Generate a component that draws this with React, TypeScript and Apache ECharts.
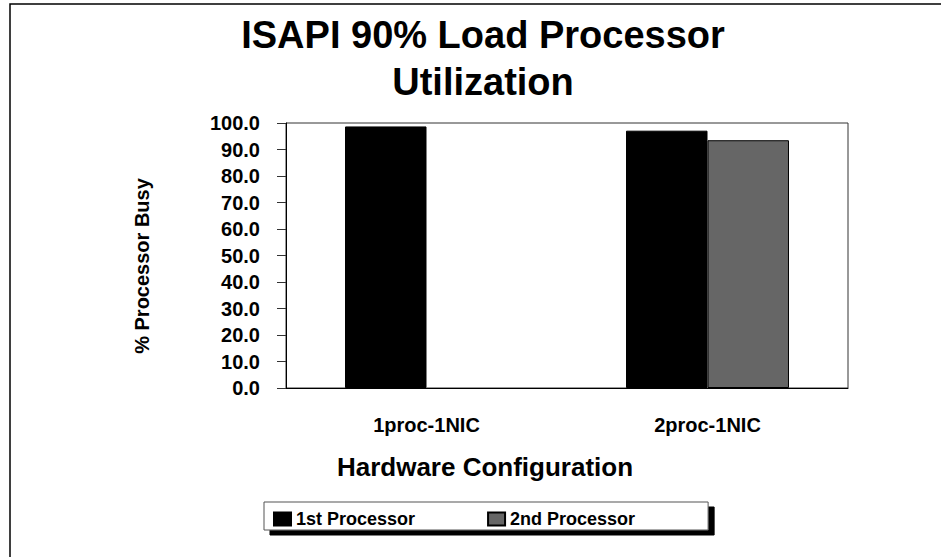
import React, { useEffect, useRef } from 'react';
import * as echarts from 'echarts';

const categories = ['1proc-1NIC', '2proc-1NIC'];
const seriesNames = ['1st Processor', '2nd Processor'];
const firstProcessor = [98.7, 97.1];
const secondProcessor: (number | null)[] = [null, 93.5];
const yMin = 0;
const yMax = 100;
const yInterval = 10;

const titleText = 'ISAPI 90% Load Processor\nUtilization';
const xAxisName = 'Hardware Configuration';
const yAxisName = '% Processor Busy';

const FONT = '"Liberation Sans", Arial, Helvetica, sans-serif';

export default function App() {
  const ref = useRef<HTMLDivElement>(null);

  useEffect(() => {
    if (!ref.current) return;
    const chart = echarts.init(ref.current, null, { renderer: 'svg' });
    chart.setOption({
      animation: false,
      backgroundColor: '#ffffff',
      textStyle: { fontFamily: FONT },
      title: [
        {
          text: titleText,
          left: 483,
          top: 11,
          textAlign: 'center',
          padding: 0,
          textStyle: {
            fontFamily: FONT,
            fontSize: 38,
            fontWeight: 'bold',
            color: '#000',
            lineHeight: 47,
          },
        },
        {
          text: xAxisName,
          left: 485,
          top: 452,
          textAlign: 'center',
          padding: 0,
          textStyle: {
            fontFamily: FONT,
            fontSize: 26,
            fontWeight: 'bold',
            color: '#000',
            lineHeight: 30,
          },
        },
      ],
      graphic: [
        {
          type: 'rect',
          silent: true,
          z: -10,
          shape: { x: 10, y: 4, width: 1000, height: 700 },
          style: { fill: 'none', stroke: '#000', lineWidth: 1.5 },
        },
      ],
      grid: {
        left: 286,
        right: 93,
        top: 123,
        bottom: 169,
        show: true,
        borderColor: '#333',
        borderWidth: 1,
        backgroundColor: 'transparent',
      },
      legend: {
        data: seriesNames,
        left: 264,
        top: 502,
        orient: 'horizontal',
        icon: 'rect',
        itemWidth: 17,
        itemHeight: 13,
        itemGap: 72,
        padding: [8, 73, 2, 9],
        backgroundColor: '#ffffff',
        borderColor: '#555',
        borderWidth: 1,
        borderRadius: 0,
        shadowColor: '#000',
        shadowBlur: 0,
        shadowOffsetX: 6,
        shadowOffsetY: 5,
        selectedMode: false,
        textStyle: {
          fontFamily: FONT,
          fontSize: 18,
          fontWeight: 'bold',
          color: '#000',
          lineHeight: 17,
        },
      },
      xAxis: {
        type: 'category',
        data: categories,
        axisLine: { show: true, lineStyle: { color: '#000', width: 1 } },
        axisTick: { show: false },
        splitLine: { show: false },
        axisLabel: {
          interval: 0,
          fontFamily: FONT,
          fontSize: 20,
          fontWeight: 'bold',
          color: '#000',
          margin: 27,
          lineHeight: 20,
        },
      },
      yAxis: {
        type: 'value',
        min: yMin,
        max: yMax,
        interval: yInterval,
        name: yAxisName,
        nameLocation: 'middle',
        nameGap: 134,
        nameRotate: 90,
        nameTextStyle: {
          fontFamily: FONT,
          fontSize: 20,
          fontWeight: 'bold',
          color: '#000',
          lineHeight: 20,
          padding: [0, 21, 0, 0],
        },
        axisLine: { show: true, lineStyle: { color: '#000', width: 1 } },
        axisTick: { show: true, length: 9, lineStyle: { color: '#333' } },
        splitLine: { show: false },
        axisLabel: {
          formatter: (v: number) => v.toFixed(1),
          fontFamily: FONT,
          fontSize: 20,
          fontWeight: 'bold',
          color: '#000',
          margin: 26,
        },
      },
      series: [
        {
          type: 'bar',
          name: seriesNames[0],
          data: firstProcessor,
          barGap: '0%',
          barCategoryGap: '42%',
          itemStyle: { color: '#000000', borderColor: '#000', borderWidth: 1 },
        },
        {
          type: 'bar',
          name: seriesNames[1],
          data: secondProcessor,
          barGap: '0%',
          barCategoryGap: '42%',
          itemStyle: { color: '#666666', borderColor: '#000', borderWidth: 1 },
        },
      ],
    });
    return () => chart.dispose();
  }, []);

  return (
    <div
      ref={ref}
      style={{ position: 'fixed', left: 0, top: 0, width: 941, height: 557, background: '#fff' }}
    />
  );
}
